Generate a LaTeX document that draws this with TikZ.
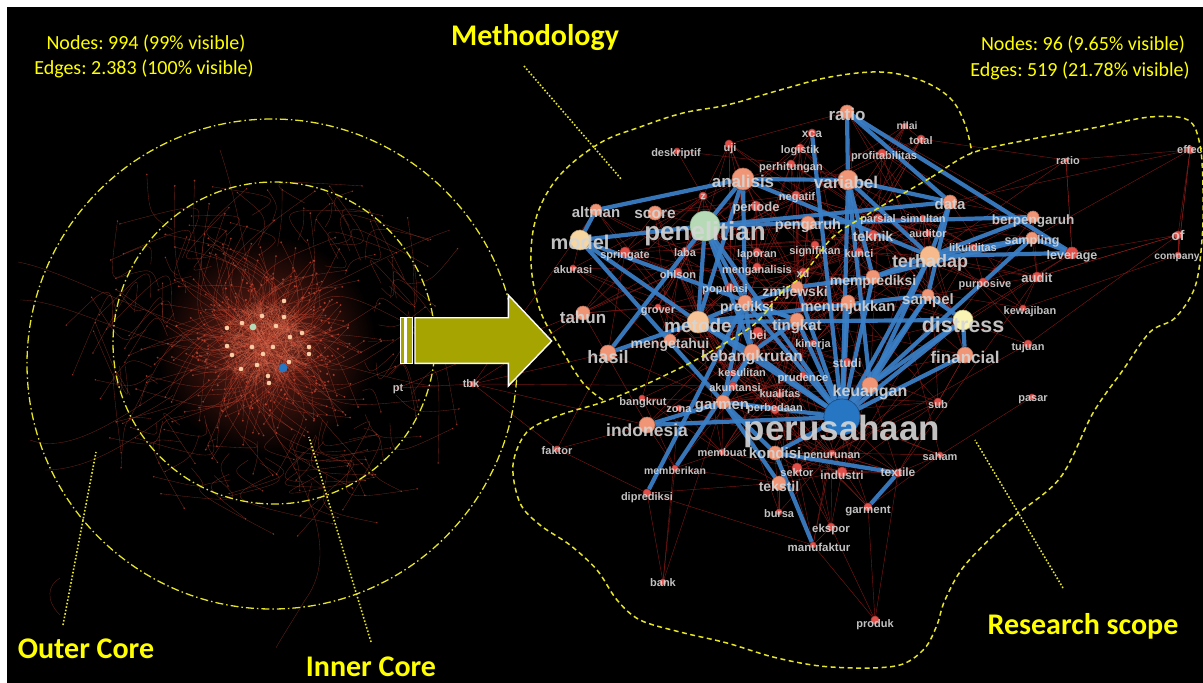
\documentclass[tikz,border=0pt]{standalone}
\usepackage{fontspec}
\setmainfont{Liberation Sans}
\newfontfamily\calfont{Carlito}
\frenchspacing
\pgfdeclarelayer{bg}\pgfdeclarelayer{redl}\pgfdeclarelayer{bluel}
\pgfsetlayers{bg,redl,bluel,main}
\definecolor{nred}{RGB}{226,78,72}
\definecolor{nsal}{RGB}{240,150,118}
\definecolor{nmod}{RGB}{248,214,160}
\definecolor{npen}{RGB}{182,218,182}
\definecolor{nper}{RGB}{38,118,196}
\definecolor{ndis}{RGB}{250,244,180}
\definecolor{nmet}{RGB}{246,196,150}
\definecolor{nter}{RGB}{246,186,140}
\definecolor{labgray}{RGB}{214,214,214}
\definecolor{bedge}{RGB}{58,128,200}
\definecolor{redge}{RGB}{150,28,24}
\definecolor{yel}{RGB}{255,255,0}
\definecolor{dyel}{RGB}{228,228,40}
\definecolor{olivearrow}{RGB}{166,164,0}
\definecolor{hairc}{RGB}{205,70,50}
\definecolor{corec}{RGB}{235,120,90}
\definecolor{coredot}{RGB}{250,205,165}
\definecolor{glowc}{RGB}{120,38,26}
\tikzset{
 rededge/.style={draw=redge, line width=0.45pt, opacity=0.8},
 blueedge/.style={draw=bedge, line width=4.2pt, opacity=0.92},
 netnode/.style={circle, inner sep=0pt, line width=0.6pt},
 netlab/.style={text=labgray, text opacity=0.9, inner sep=0pt, anchor=base},
 stat/.style={text=yel, inner sep=0pt, font=\calfont\frenchspacing\fontsize{20}{20}\selectfont},
 head/.style={text=yel, inner sep=0pt, font=\calfont\bfseries\fontsize{30}{30}\selectfont},
 pointer/.style={draw=dyel, line width=1.6pt, dash pattern=on 1.6pt off 1.9pt},
 ringline/.style={draw=dyel, line width=1.3pt, dash pattern=on 8pt off 3pt on 1.5pt off 3pt},
 region/.style={draw=dyel, line width=1.5pt, dash pattern=on 5pt off 3.5pt},
 hair/.style={draw=hairc, line width=0.35pt, opacity=0.5},
 hairdot/.style={fill=hairc, opacity=0.7},
 coremesh/.style={draw=corec, line width=0.3pt, opacity=0.35},
 arrowpart/.style={fill=olivearrow, draw=white, line width=1.4pt},
}
\def\netdata{
ratio/847/112/7/nsal/17/ratio/0/3,
xca/812/133/4/nred/12/xca/0/1,
nilai/905/126/3/nred/10.5/nilai/2/0,
total/921/139/4/nred/11/total/0/2,
profit/882/153/4/nred/11/profitabilitas/2/3,
deskriptif/677/151/3/nred/11/deskriptif/-1/2,
uji/729/144/4/nred/11/uji/1/4,
logistik/800/148/4/nred/11/logistik/0/2,
perhitungan/791/164/4/nred/11/perhitungan/0/3,
analisis/743/179/11/nsal/17/analisis/0/3,
variabel/848/180/10/nsal/17/variabel/-2/3,
negatif/796/195/4/nred/11/negatif/1/2,
z/703/196/4/nred/10/z/0/0,
periode/756/206/5/nred/13/periode/0/2,
altman/596/210/6/nsal/15/altman/0/3,
score/655/213/7/nsal/15.5/score/0/1,
penelitian/705/226/15/npen/26/penelitian/0/7,
pengaruh/808/223/7/nsal/14.5/pengaruh/0/2,
data/950/202/7/nsal/15/data/0/3,
parsial/878/218/4/nred/11/parsial/0/1,
simultan/923/218/3/nred/11/simultan/0/1,
berpengaruh/1033/217/6/nsal/13.5/berpengaruh/0/3,
model/580/240/10/nmod/20/model/0/3,
springate/625/252/5/nred/11/springate/0/3,
laba/685/250/3/nred/11/laba/0/3,
laporan/757/252/4/nred/11/laporan/0/2,
signifikan/815/245/4/nred/11/signifikan/0/6,
teknik/873/235/5/nred/14/teknik/0/2,
auditor/928/233/3/nred/11/auditor/0/1,
kunci/859/252/4/nred/11/kunci/0/2,
likuiditas/973/247/3/nred/11/likuiditas/0/1,
sampling/1032/238/6/nsal/12.5/sampling/0/3,
leverage/1072/253/6/nred/12.5/leverage/0/3,
terhadap/930/256/10/nter/18/terhadap/0/6,
akurasi/573/268/3/nred/11/akurasi/0/2,
ohlson/678/272/4/nred/11/ohlson/0/3,
menganalisis/757/267/4/nred/11/menganalisis/0/3,
xd/803/272/4/nred/11/xd/0/2,
memprediksi/873/277/7/nsal/14/memprediksi/0/4,
audit/1037/277/5/nred/13/audit/0/2,
purposive/983/282/4/nred/11/purposive/2/2,
populasi/730/287/4/nred/11/populasi/-5/2,
zmijewski/797/287/6/nsal/14/zmijewski/-2/5,
prediksi/745/302/7/nsal/14/prediksi/2/5,
menunjukkan/848/302/7/nsal/14.7/menunjukkan/0/5,
sampel/928/295/6/nsal/15/sampel/0/5,
tahun/583/313/7/nsal/17/tahun/0/5,
grover/658/307/3/nred/11/grover/0/3,
metode/698/322/11/nmet/19/metode/0/5,
tingkat/797/320/7/nsal/15/tingkat/0/6,
distress/963/320/10/ndis/21.5/distress/0/6,
kewajiban/1023/308/3/nred/11/kewajiban/7/3,
bei/758/332/5/nred/12/bei/0/4,
kinerja/813/343/3/nred/11/kinerja/0/1,
mengetahui/670/340/6/nsal/14/mengetahui/0/4,
hasil/608/353/8/nsal/18/hasil/0/5,
kebangkrutan/752/352/8/nsal/15.5/kebangkrutan/0/5,
financial/965/355/8/nsal/17/financial/0/3,
tujuan/1028/344/4/nred/11/tujuan/0/3,
studi/847/362/4/nred/12/studi/0/2,
kesulitan/733/373/3/nred/11/kesulitan/9/0,
prudence/803/375/3/nred/11.3/prudence/0/3,
akuntansi/733/386/4/nred/11/akuntansi/2/2,
keuangan/870/385/8/nsal/16/keuangan/0/7,
kualitas/780/395/3/nred/11/kualitas/0/-1,
bangkrut/642/398/3/nred/11/bangkrut/1/4,
zona/679/408/3/nred/11/zona/0/1,
garmen/723/402/7/nsal/15/garmen/-1/3,
perbedaan/775/410/4/nred/11/perbedaan/0/-2,
sub/938/402/4/nred/11/sub/0/3,
pasar/1032/397/3/nred/11/pasar/1/1,
perusahaan/842/417/18/nper/35/perusahaan/0/13,
indonesia/647/425/8/nsal/17.5/indonesia/0/6,
faktor/557/449/3/nred/11/faktor/0/2,
membuat/722/452/3/nred/11/membuat/0/1,
kondisi/775/453/7/nsal/15/kondisi/0/1,
penurunan/832/453/3/nred/11/penurunan/0/2,
saham/940/455/3/nred/11/saham/0/2,
memberikan/675/468/3/nred/10.5/memberikan/0/3,
sektor/797/468/5/nred/11/sektor/0/5,
industri/842/472/5/nred/11.8/industri/0/4,
textile/898/473/4/nred/12/textile/0/0,
tekstil/779/483/7/nsal/14/tekstil/0/4,
diprediksi/647/493/4/nred/11/diprediksi/0/4,
bursa/779/512/3/nred/11/bursa/0/2,
garment/868/507/4/nred/11.5/garment/0/3,
ekspor/831/527/4/nred/11.5/ekspor/0/2,
manufaktur/813/545/3/nred/11.5/manufaktur/6/3,
bank/663/582/3/nred/11/bank/0/1,
produk/875/620/4/nred/11/produk/0/4,
ratiob/1066/160/2/nred/11/ratio/2/1,
effec/1190/150/4/nred/11/effec/0/0,
of/1178/235/4/nred/14/of/0/1,
company/1178/255/3/nred/10.3/company/-1/1,
pt/398/388/1.5/redge/11/pt/0/0,
tbk/473/384/3/nred/11/tbk/-2/0}
\begin{document}
\begin{tikzpicture}[x=1pt,y=-1pt]
\useasboundingbox (0,0) rectangle (1203,683);
\begin{pgfonlayer}{bg}
\fill[white] (0,0) rectangle (1203,683);
\fill[black] (7,7) rectangle (1203,683);
\end{pgfonlayer}
% ---------- left hairball ----------
\begin{scope}
\clip (7,80) rectangle (572,683);
\pgfmathsetseed{1234}
\shade[inner color=glowc, outer color=black] (266,345) circle (110);
\foreach \k in {1,...,230}{
  \pgfmathsetmacro\hang{rnd*360}
  \pgfmathsetmacro\hra{rnd*40}
  \pgfmathsetmacro\hrb{55+rnd*rnd*130}
  \pgfmathsetmacro\htw{(rnd-0.5)*70}
  \pgfmathsetmacro\hsx{266+1.1*\hra*cos(\hang)}
  \pgfmathsetmacro\hsy{345+\hra*sin(\hang)}
  \pgfmathsetmacro\hex{266+1.05*\hrb*cos(\hang+\htw)}
  \pgfmathsetmacro\hey{345+\hrb*sin(\hang+\htw)}
  \pgfmathsetmacro\hcx{266+0.6*\hrb*cos(\hang-\htw*0.5)}
  \pgfmathsetmacro\hcy{345+0.6*\hrb*sin(\hang-\htw*0.5)}
  \draw[hair] (\hsx,\hsy) .. controls (\hcx,\hcy) .. (\hex,\hey);
  \fill[hairdot] (\hex,\hey) circle (1);
}
\foreach \k in {1,...,120}{
  \pgfmathsetmacro\hang{rnd*360}
  \pgfmathsetmacro\hra{90+rnd*60}
  \pgfmathsetmacro\hrb{\hra+20+rnd*45}
  \pgfmathsetmacro\htw{(rnd-0.5)*36}
  \pgfmathsetmacro\hsx{266+1.05*\hra*cos(\hang)}
  \pgfmathsetmacro\hsy{345+\hra*sin(\hang)}
  \pgfmathsetmacro\hex{266+1.05*\hrb*cos(\hang+\htw)}
  \pgfmathsetmacro\hey{345+\hrb*sin(\hang+\htw)}
  \pgfmathsetmacro\hcx{266+(\hra+\hrb)*0.5*cos(\hang-\htw)}
  \pgfmathsetmacro\hcy{345+(\hra+\hrb)*0.5*sin(\hang-\htw)}
  \draw[hair] (\hsx,\hsy) .. controls (\hcx,\hcy) .. (\hex,\hey);
  \fill[hairdot] (\hex,\hey) circle (0.8);
}
\foreach \k in {1,...,280}{
  \pgfmathsetmacro\haa{rnd*360}
  \pgfmathsetmacro\hra{sqrt(rnd)*50}
  \pgfmathsetmacro\hab{rnd*360}
  \pgfmathsetmacro\hrb{sqrt(rnd)*50}
  \draw[coremesh] ({268+\hra*cos(\haa)},{343+0.9*\hra*sin(\haa)}) -- ({268+\hrb*cos(\hab)},{343+0.9*\hrb*sin(\hab)});
}
\foreach \k in {1,...,90}{
  \pgfmathsetmacro\haa{rnd*360}
  \pgfmathsetmacro\hra{sqrt(rnd)*75}
  \fill[hairc, opacity=0.8] ({268+\hra*cos(\haa)},{343+0.9*\hra*sin(\haa)}) circle (1.2);
}
\draw[hair] (200,330) .. controls (110,300) and (60,270) .. (18,262);
\draw[hair] (190,350) .. controls (110,330) and (60,300) .. (20,300);
\draw[hair] (200,365) .. controls (120,420) and (70,455) .. (30,440);
\draw[hair] (210,380) .. controls (140,440) and (90,470) .. (45,470);
\draw[hair] (260,410) .. controls (320,500) and (335,560) .. (305,600);
\draw[hair] (305,600) .. controls (290,625) and (280,640) .. (276,648);
\draw[hair] (60,615) .. controls (45,600) and (48,585) .. (60,578);
\draw[hair] (300,300) .. controls (380,260) and (420,240) .. (450,230);
\draw[hair] (320,360) .. controls (400,380) and (420,386) .. (440,386);
\draw[hair] (250,280) .. controls (240,220) and (230,180) .. (220,150);
\foreach \px/\py in {227/328,262/316,284/317,284/301,302/333,309/347,309/354,252/347,232/355,227/346,263/354,273/347,241/369,289/362,268/376,269/383,257/365,276/326,242/323,290/337}
  \fill[coredot] (\px,\py) circle (2.3);
\fill[npen] (253,327) circle (3.4);
\fill[nper] (283,368) circle (4.5);
\end{scope}
% ---------- core rings ----------
\draw[ringline] (272,364) circle (245);
\draw[ringline] (274,343) circle (161);
% ---------- network nodes ----------
\foreach \nm/\xx/\yy/\rr/\cl/\fs/\tx/\lx/\ly in \netdata {
  \node[netnode, fill=\cl, draw=\cl!75!black, minimum size={2*\rr*1pt}] (\nm) at (\xx,\yy) {};
}
\foreach \nm/\xx/\yy/\rr/\cl/\fs/\tx/\lx/\ly in \netdata {
  \node[netlab, font=\bfseries\fontsize{\fs}{\fs}\selectfont] (\nm-l) at ({\xx+\lx},{\yy+\ly+0.3*\fs}) {\tx};
}
% ---------- thin red edges ----------
\begin{pgfonlayer}{redl}
\pgfmathsetseed{271}
\foreach \nm/\xx/\yy/\rr/\cl/\fs/\tx/\lx/\ly [count=\i] in \netdata {
  \foreach \nmb/\xxb/\yyb/\rrb/\clb/\fsb/\txb/\lxb/\lyb [count=\j] in \netdata {
    \ifnum\j>\i
      \pgfmathsetmacro\dd{veclen(\xxb-\xx,\yyb-\yy)}
      \pgfmathsetmacro\pp{0.9*exp(-\dd/70)+0.004}
      \pgfmathsetmacro\rn{rnd}
      \ifdim\rn pt<\pp pt \draw[rededge] (\nm) -- (\nmb); \fi
    \fi
  }
}
\foreach \a/\b in {pt/tbk, tbk/hasil, tbk/faktor, tbk/indonesia, tbk/tahun, ratiob/effec, ratiob/leverage, effec/of, effec/company, of/leverage, of/audit, company/kewajiban, of/tujuan, bank/diprediksi, bank/memberikan, produk/ekspor, produk/manufaktur, produk/textile, produk/garment, faktor/indonesia, faktor/hasil}
  \draw[rededge] (\a) -- (\b);
\end{pgfonlayer}
% ---------- thick blue edges ----------
\begin{pgfonlayer}{bluel}
\foreach \a/\b in {ratio/variabel, ratio/data, ratio/leverage, xca/perusahaan,
 analisis/altman, analisis/penelitian, analisis/variabel, analisis/terhadap, analisis/metode, analisis/prediksi,
 altman/model, model/penelitian, model/metode, model/garmen, model/tingkat,
 penelitian/data, penelitian/berpengaruh, penelitian/metode, penelitian/perusahaan, penelitian/prediksi, penelitian/kebangkrutan, penelitian/hasil,
 variabel/data, variabel/terhadap, variabel/perusahaan, variabel/memprediksi, variabel/keuangan,
 data/terhadap, data/sampel,
 terhadap/sampling, terhadap/leverage, terhadap/perusahaan, terhadap/memprediksi, terhadap/keuangan, terhadap/berpengaruh,
 sampling/leverage, sampling/memprediksi, sampling/keuangan,
 distress/financial, distress/perusahaan, distress/metode, distress/sampel,
 keuangan/perusahaan, keuangan/sampel, keuangan/distress, financial/perusahaan,
 perusahaan/indonesia, perusahaan/garmen, perusahaan/kebangkrutan, perusahaan/metode, perusahaan/prediksi, perusahaan/tingkat, perusahaan/memprediksi, perusahaan/zmijewski, perusahaan/menunjukkan, perusahaan/sampel, perusahaan/kondisi,
 metode/prediksi, metode/kebangkrutan, metode/hasil, metode/sampel,
 prediksi/zmijewski, prediksi/kebangkrutan, prediksi/garmen, prediksi/diprediksi, prediksi/tingkat,
 kebangkrutan/garmen, kebangkrutan/tingkat, kebangkrutan/memberikan,
 zmijewski/memprediksi, garmen/tekstil, kondisi/manufaktur, kondisi/textile, textile/garment, garmen/kondisi, garmen/indonesia}
  \draw[blueedge] (\a) -- (\b);
\end{pgfonlayer}
% ---------- arrow ----------
\filldraw[arrowpart] (400.7,317.7) rectangle (405,363.3);
\filldraw[arrowpart] (406.7,317.7) rectangle (412.3,363.3);
\filldraw[arrowpart, line join=miter] (415,317.7) -- (508.3,317.7) -- (508.3,295) -- (551.7,341) -- (508.3,386) -- (508.3,363.3) -- (415,363.3) -- cycle;
% ---------- regions ----------
\draw[region] plot[smooth, tension=0.6] coordinates {(603,400) (583,383) (560,347) (540,310) (531,262) (537,215) (560,175) (600,143) (640,127) (683,113) (727,105) (780,90) (830,77) (880,72) (920,80) (950,98) (965,124) (972,153)};
\draw[region] plot[smooth cycle, tension=0.55] coordinates {(972,153) (930,178) (870,213) (833,237) (803,275) (781,293) (757,322) (727,342) (690,363) (640,387) (600,403) (560,415) (527,432) (513,465) (520,503) (540,525) (570,545) (597,570) (617,600) (640,620) (680,632) (727,643) (773,657) (820,666) (870,668) (903,664) (925,648) (937,625) (945,600) (965,565) (1010,520) (1060,478) (1093,413) (1123,370) (1150,332) (1175,318) (1195,287) (1202,240) (1203,190) (1200,145) (1188,120) (1150,117) (1093,128) (1027,140)};
% ---------- pointers ----------
\coordinate (mthA) at (524,66);  \coordinate (mthB) at (622,180);
\coordinate (outA) at (63,625);  \coordinate (outB) at (96,452);
\coordinate (innA) at (371,642); \coordinate (innB) at (309,437);
\coordinate (resA) at (1063,588); \coordinate (resB) at (975,440);
\draw[pointer] (mthA) -- (mthB);
\draw[pointer] (outA) -- (outB);
\draw[pointer] (innA) -- (innB);
\draw[pointer] (resA) -- (resB);
% ---------- texts ----------
\node[stat] (st1) at (146,44) {Nodes: 994 (99\% visible)};
\node[stat] (st2) at (144,69) {Edges: 2.383 (100\% visible)};
\node[stat] (st3) at (1083,45) {Nodes: 96 (9.65\% visible)};
\node[stat] (st4) at (1080,71) {Edges: 519 (21.78\% visible)};
\node[head] (hmth) at (535,38) {Methodology};
\node[head] (hout) at (86,649) {Outer Core};
\node[head] (hinn) at (371,667) {Inner Core};
\node[head] (hres) at (1083,626) {Research scope};
\end{tikzpicture}
\end{document}
